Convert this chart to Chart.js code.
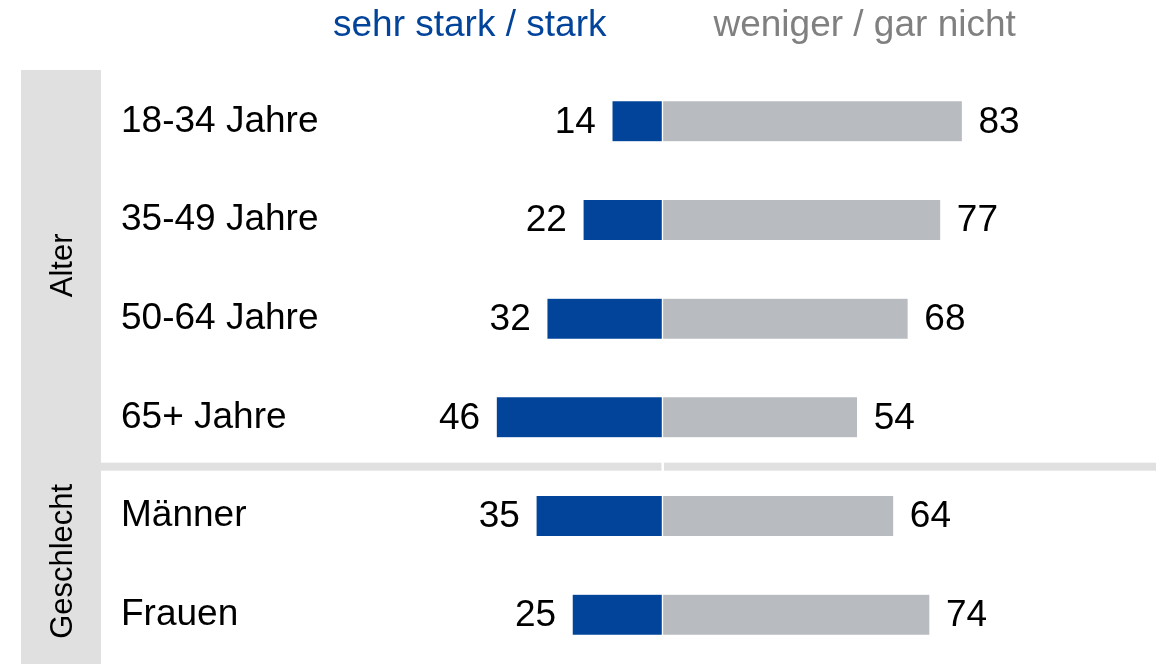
<!DOCTYPE html>
<html lang="de">
<head>
<meta charset="utf-8">
<title>Zustimmung nach Alter und Geschlecht</title>
<script src="https://cdn.jsdelivr.net/npm/chart.js@4/dist/chart.umd.min.js"></script>
<style>
    html, body { margin: 0; padding: 0; background: #fff; }
    #wrap { width: 1168px; height: 664px; }
</style>
</head>
<body>
<div id="wrap"><canvas id="ageGenderChart" width="1168" height="664"></canvas></div>
<script>
const categories = ['18-34 Jahre', '35-49 Jahre', '50-64 Jahre', '65+ Jahre', 'Männer', 'Frauen'];
const strongValues = [14, 22, 32, 46, 35, 25];
const weakValues = [83, 77, 68, 54, 64, 74];
const seriesNames = ['sehr stark / stark', 'weniger / gar nicht'];
const groups = [
    { label: 'Alter', from: 0, to: 3 },
    { label: 'Geschlecht', from: 4, to: 5 }
];

const BLUE = '#03449b';
const GREY = '#b8bcc0';
const BAND = '#e0e0e0';
const FONT = '"Liberation Sans", Arial, sans-serif';

// grey band with rotated group names plus the divider between groups
const groupPlugin = {
    id: 'groups',
    beforeDatasetsDraw(chart) {
        const { ctx, chartArea, scales } = chart;
        const y = scales.y;
        const zero = scales.x.getPixelForValue(0);
        ctx.save();
        ctx.fillStyle = BAND;
        ctx.fillRect(21, chartArea.top - 2, 80, chart.height - chartArea.top + 2);

        const bounds = [];
        groups.forEach(function (g, i) {
            const top = g.from === 0 ? chartArea.top : (y.getPixelForValue(g.from - 1) + y.getPixelForValue(g.from)) / 2;
            const bottom = g.to === categories.length - 1 ? chartArea.bottom : (y.getPixelForValue(g.to) + y.getPixelForValue(g.to + 1)) / 2;
            bounds.push({ top: top, bottom: bottom });
            if (i > 0) {
                ctx.fillStyle = BAND;
                ctx.fillRect(101, top - 4, zero - 1 - 101, 8);
                ctx.fillRect(zero + 1.5, top - 4, 1156 - zero - 1.5, 8);
            }
        });

        ctx.fillStyle = '#000';
        ctx.font = '31px ' + FONT;
        ctx.textAlign = 'center';
        ctx.textBaseline = 'middle';
        groups.forEach(function (g, i) {
            ctx.save();
            ctx.translate(63, (bounds[i].top + bounds[i].bottom) / 2 - 4);
            ctx.rotate(-Math.PI / 2);
            ctx.fillText(g.label, 0, 0);
            ctx.restore();
        });
        ctx.restore();
    },
    afterDatasetsDraw(chart) {
        const { ctx, scales } = chart;
        const zero = scales.x.getPixelForValue(0);
        ctx.save();
        ctx.font = '37px ' + FONT;
        ctx.textBaseline = 'middle';

        // value labels at the bar ends
        chart.data.datasets.forEach(function (ds, di) {
            chart.getDatasetMeta(di).data.forEach(function (bar, i) {
                const v = Math.abs(ds.data[i]);
                ctx.fillStyle = '#000';
                if (ds.data[i] < 0) {
                    ctx.textAlign = 'right';
                    ctx.fillText(v, bar.x - 16, bar.y + 1);
                } else {
                    ctx.textAlign = 'left';
                    ctx.fillText(v, bar.x + 16, bar.y + 1);
                }
            });
        });

        // series headers
        ctx.textBaseline = 'alphabetic';
        ctx.textAlign = 'right';
        ctx.fillStyle = BLUE;
        ctx.fillText(seriesNames[0], zero - 56, 36);
        ctx.textAlign = 'left';
        ctx.fillStyle = '#808080';
        ctx.fillText(seriesNames[1], zero + 51, 36);
        ctx.restore();
    }
};

new Chart(document.getElementById('ageGenderChart').getContext('2d'), {
    type: 'bar',
    data: {
        labels: categories,
        datasets: [{
            label: seriesNames[0],
            data: strongValues.map(function (v) { return -v; }),
            backgroundColor: BLUE,
            borderColor: '#ffffff',
            borderWidth: { top: 0, bottom: 0, left: 1, right: 1 },
            borderSkipped: false,
            barThickness: 40
        }, {
            label: seriesNames[1],
            data: weakValues,
            backgroundColor: GREY,
            borderColor: '#ffffff',
            borderWidth: { top: 0, bottom: 0, left: 1, right: 1 },
            borderSkipped: false,
            barThickness: 40
        }]
    },
    options: {
        indexAxis: 'y',
        responsive: false,
        animation: false,
        layout: { padding: { left: 121, right: 3, top: 72, bottom: 0 } },
        plugins: {
            legend: { display: false },
            tooltip: { enabled: false }
        },
        scales: {
            x: {
                stacked: true,
                display: false,
                min: -95,
                max: 139
            },
            y: {
                stacked: true,
                grid: { display: false },
                border: { display: false },
                ticks: {
                    crossAlign: 'far',
                    color: '#000',
                    font: { family: FONT, size: 37 }
                },
                afterFit: function (scale) {
                    scale.width = 198;
                    // labels sit inside their rows, no extra room needed above/below
                    scale.paddingTop = 0;
                    scale.paddingBottom = 0;
                }
            }
        }
    },
    plugins: [groupPlugin]
});
</script>
</body>
</html>
